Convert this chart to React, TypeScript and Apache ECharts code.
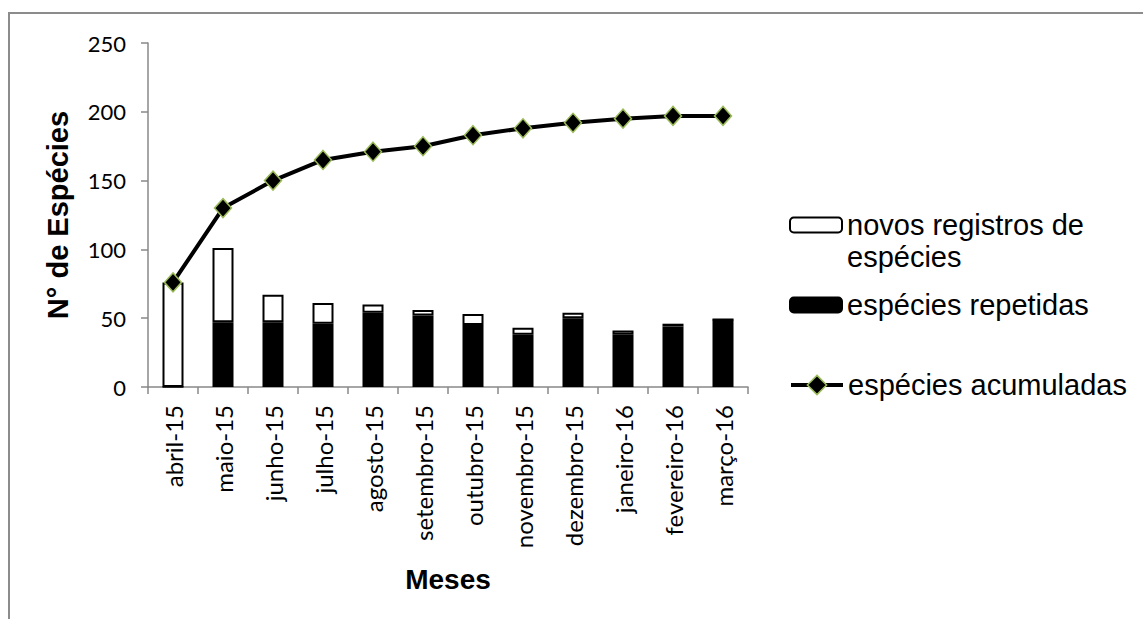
import React, { useEffect, useRef } from "react";
import * as echarts from "echarts";

const categories = [
  "abril-15", "maio-15", "junho-15", "julho-15", "agosto-15", "setembro-15",
  "outubro-15", "novembro-15", "dezembro-15", "janeiro-16", "fevereiro-16", "março-16",
];
const repetidas = [0, 47, 47, 46, 54, 52, 45, 38, 50, 38, 44, 49];
const novos = [76, 54, 20, 15, 6, 4, 8, 5, 4, 3, 2, 0];
const acumuladas = [76, 130, 150, 165, 171, 175, 183, 188, 192, 195, 197, 197];

const NAME_NOVOS = "novos registros de espécies";
const NAME_REP = "espécies repetidas";
const NAME_ACUM = "espécies acumuladas";

export default function App() {
  const ref = useRef<HTMLDivElement>(null);
  useEffect(() => {
    if (!ref.current) return;
    const chart = echarts.init(ref.current, null, { renderer: "svg" });
    const legendText = {
      fontFamily: "Liberation Sans, Arial, sans-serif",
      fontSize: 29,
      lineHeight: 32,
      color: "#000",
    };
    chart.setOption({
      animation: false,
      backgroundColor: "#fff",
      graphic: [
        {
          type: "rect",
          shape: { x: 9, y: 13, width: 2000, height: 2000 },
          style: { fill: "none", stroke: "#8c8c8c", lineWidth: 2 },
          silent: true,
        },
      ],
      grid: { left: 148, right: 395, top: 43, bottom: 232 },
      legend: [
        {
          data: [NAME_NOVOS],
          left: 789,
          top: 177,
          padding: 0,
          itemWidth: 52,
          itemHeight: 15,
          formatter: () => " \nnovos registros de\nespécies",
          textStyle: legendText,
        },
        {
          data: [NAME_REP],
          left: 789,
          top: 289,
          padding: 0,
          itemWidth: 52,
          itemHeight: 15,
          textStyle: legendText,
        },
        {
          data: [
            {
              name: NAME_ACUM,
              lineStyle: { width: 4, color: "#000" },
              itemStyle: { color: "#000", borderColor: "#9BBB59", borderWidth: 1.5 },
            },
          ],
          left: 789,
          top: 369,
          padding: 0,
          itemWidth: 52,
          itemHeight: 24,
          textStyle: legendText,
        },
      ],
      xAxis: {
        type: "category",
        data: categories,
        name: "Meses",
        nameLocation: "middle",
        nameGap: 178,
        nameTextStyle: {
          fontFamily: "Liberation Sans, Arial, sans-serif",
          fontWeight: "bold",
          fontSize: 28,
          color: "#000",
        },
        axisLine: { lineStyle: { color: "#888", width: 1.5 } },
        axisTick: { show: true, length: 7, lineStyle: { color: "#888", width: 1.5 } },
        axisLabel: {
          rotate: 90,
          margin: 18,
          interval: 0,
          fontFamily: "Lato, sans-serif",
          fontSize: 24,
          color: "#000",
        },
      },
      yAxis: {
        type: "value",
        min: 0,
        max: 250,
        interval: 50,
        name: "N° de Espécies",
        nameLocation: "middle",
        nameGap: 76,
        nameTextStyle: {
          fontFamily: "Liberation Sans, Arial, sans-serif",
          fontWeight: "bold",
          fontSize: 29,
          color: "#000",
        },
        axisLine: { show: true, lineStyle: { color: "#888", width: 1.5 } },
        axisTick: { show: true, length: 7, lineStyle: { color: "#888", width: 1.5 } },
        splitLine: { show: false },
        axisLabel: {
          margin: 22,
          fontFamily: "Lato, sans-serif",
          fontSize: 22,
          color: "#000",
        },
      },
      series: [
        {
          name: NAME_REP,
          type: "bar",
          stack: "total",
          data: repetidas,
          barWidth: 21,
          itemStyle: { color: "#000", borderColor: "#000", borderWidth: 1.5 },
        },
        {
          name: NAME_NOVOS,
          type: "bar",
          stack: "total",
          data: novos,
          barWidth: 21,
          itemStyle: { color: "#fff", borderColor: "#000", borderWidth: 2 },
        },
        {
          name: NAME_ACUM,
          type: "line",
          data: acumuladas,
          symbol: "diamond",
          symbolSize: [17, 19],
          lineStyle: { color: "#000", width: 4 },
          itemStyle: { color: "#000", borderColor: "#9BBB59", borderWidth: 1.5 },
          z: 5,
        },
      ],
    });
    return () => chart.dispose();
  }, []);
  return (
    <div
      ref={ref}
      style={{ position: "absolute", left: 0, top: 0, width: 1143, height: 619 }}
    />
  );
}
